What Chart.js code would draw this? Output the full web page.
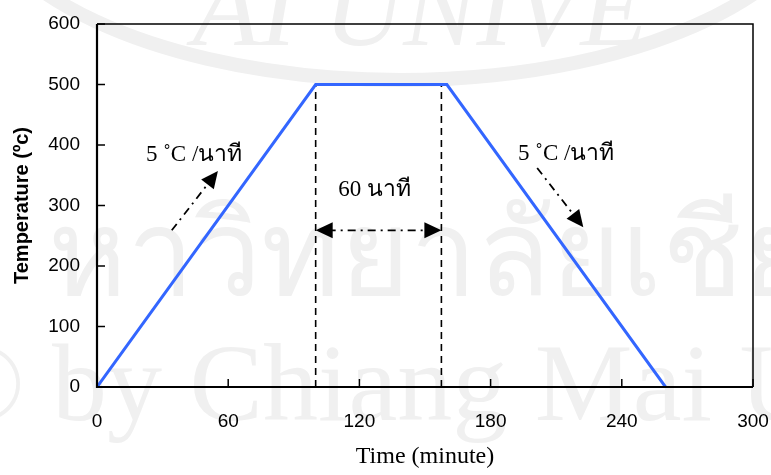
<!DOCTYPE html>
<html>
<head>
<meta charset="utf-8">
<script src="https://cdn.jsdelivr.net/npm/chart.js@4"></script>
<style>
  html, body { margin: 0; padding: 0; background: #fff; }
  #wrap { width: 771px; height: 475px; }
</style>
</head>
<body>
<div id="wrap"><canvas id="myChart" width="771" height="475"></canvas></div>
<script>
// heating profile
const times = [0, 100, 160, 260];
const temps = [0, 500, 500, 0];
// dashed hold markers (as drawn)
const holdLines = [100, 157.5];
const holdTop = 500;
// tick labels
const xTicks = [0, 60, 120, 180, 240, 300];
const yTicks = [0, 100, 200, 300, 400, 500, 600];

const rateLabel = '5 \u02DAC /นาที';
const holdLabel = '60 นาที';

// annotation arrows in data units [x1, y1, x2, y2]
const notes = {
  upArrow: [34.2, 259, 55.3, 357],
  downArrow: [201.3, 362, 222.4, 264],
  holdArrow: [100, 259, 157.5, 259],
  upText: [44.4, 383],
  downText: [214.6, 386],
  holdText: [127, 325]
};

const serif = '"Liberation Serif", "Times New Roman", serif';
const sans = '"Liberation Sans", Arial, sans-serif';

function arrowHead(ctx, x1, y1, x2, y2) {
  const a = Math.atan2(y2 - y1, x2 - x1);
  const len = 17, w = 8;
  ctx.beginPath();
  ctx.moveTo(x2, y2);
  ctx.lineTo(x2 - len * Math.cos(a) + w * Math.sin(a), y2 - len * Math.sin(a) - w * Math.cos(a));
  ctx.lineTo(x2 - len * Math.cos(a) - w * Math.sin(a), y2 - len * Math.sin(a) + w * Math.cos(a));
  ctx.closePath();
  ctx.fill();
}

function dashDot(ctx, x1, y1, x2, y2, hs, he) {
  // trim line for arrowheads
  const a = Math.atan2(y2 - y1, x2 - x1);
  ctx.save();
  ctx.setLineDash([8, 5, 2, 5]);
  ctx.lineWidth = 1.8;
  ctx.beginPath();
  ctx.moveTo(x1 + (hs ? 12 : 0) * Math.cos(a), y1 + (hs ? 12 : 0) * Math.sin(a));
  ctx.lineTo(x2 - (he ? 12 : 0) * Math.cos(a), y2 - (he ? 12 : 0) * Math.sin(a));
  ctx.stroke();
  ctx.restore();
}

const watermark = {
  id: 'watermark',
  beforeDraw(chart) {
    const ctx = chart.ctx;
    ctx.save();
    ctx.fillStyle = '#f0f0f0';
    ctx.strokeStyle = '#f0f0f0';
    ctx.lineWidth = 14;
    ctx.beginPath();
    ctx.ellipse(400, -120, 430, 200, 0, 0.05 * Math.PI, 0.95 * Math.PI);
    ctx.stroke();
    ctx.font = 'italic 110px ' + serif;
    ctx.textAlign = 'center';
    ctx.textBaseline = 'alphabetic';
    ctx.fillText('AI UNIVE', 420, 45);
    ctx.font = '120px ' + serif;
    ctx.fillText('หาวิทยาลัยเชีย', 430, 295);
    ctx.font = '110px ' + serif;
    ctx.fillText('© by Chiang Mai U', 380, 420);
    ctx.restore();
  }
};

const decor = {
  id: 'decor',
  afterDatasetsDraw(chart) {
    const ctx = chart.ctx;
    const xs = chart.scales.x, ys = chart.scales.y;
    const a = chart.chartArea;
    const px = v => xs.getPixelForValue(v);
    const py = v => ys.getPixelForValue(v);
    ctx.save();
    ctx.strokeStyle = '#000';
    ctx.fillStyle = '#000';
    // frame
    ctx.lineWidth = 1.5;
    ctx.beginPath();
    ctx.moveTo(a.left, a.top);
    ctx.lineTo(a.right, a.top);
    ctx.lineTo(a.right, a.bottom);
    ctx.stroke();
    ctx.lineWidth = 2.2;
    ctx.beginPath();
    ctx.moveTo(a.left, a.top);
    ctx.lineTo(a.left, a.bottom);
    ctx.lineTo(a.right, a.bottom);
    ctx.stroke();
    // inside ticks
    ctx.lineWidth = 1.5;
    xTicks.forEach(v => {
      ctx.beginPath();
      ctx.moveTo(px(v), a.bottom);
      ctx.lineTo(px(v), a.bottom - 8);
      ctx.stroke();
    });
    yTicks.forEach(v => {
      ctx.beginPath();
      ctx.moveTo(a.left, py(v));
      ctx.lineTo(a.left + 8, py(v));
      ctx.stroke();
    });
    // arrows
    const u = notes.upArrow, d = notes.downArrow, h = notes.holdArrow;
    dashDot(ctx, px(u[0]), py(u[1]), px(u[2]), py(u[3]), false, true);
    arrowHead(ctx, px(u[0]), py(u[1]), px(u[2]), py(u[3]));
    dashDot(ctx, px(d[0]), py(d[1]), px(d[2]), py(d[3]), false, true);
    arrowHead(ctx, px(d[0]), py(d[1]), px(d[2]), py(d[3]));
    dashDot(ctx, px(h[0]), py(h[1]), px(h[2]), py(h[3]), true, true);
    arrowHead(ctx, px(h[0]), py(h[1]), px(h[2]), py(h[3]));
    arrowHead(ctx, px(h[2]), py(h[3]), px(h[0]), py(h[1]));
    // texts
    ctx.font = '23px ' + serif;
    ctx.textAlign = 'center';
    ctx.textBaseline = 'middle';
    ctx.fillText(rateLabel, px(notes.upText[0]), py(notes.upText[1]));
    ctx.fillText(rateLabel, px(notes.downText[0]), py(notes.downText[1]));
    ctx.fillText(holdLabel, px(notes.holdText[0]), py(notes.holdText[1]));
    ctx.restore();
  }
};

new Chart(document.getElementById('myChart'), {
  type: 'line',
  data: {
    datasets: [
      {
        label: 'Temperature',
        data: times.map((t, i) => ({ x: t, y: temps[i] })),
        borderColor: 'rgb(51, 102, 255)',
        borderWidth: 3,
        pointRadius: 0,
        tension: 0
      },
      ...holdLines.map(t => ({
        label: 'hold',
        data: [{ x: t, y: 0 }, { x: t, y: holdTop }],
        borderColor: '#000',
        borderWidth: 1.6,
        borderDash: [7, 5],
        pointRadius: 0
      }))
    ]
  },
  options: {
    responsive: false,
    animation: false,
    layout: { padding: { top: 24, right: 18, left: 0, bottom: 0 } },
    plugins: { legend: { display: false }, tooltip: { enabled: false } },
    scales: {
      x: {
        type: 'linear',
        min: 0,
        max: 300,
        afterBuildTicks: s => { s.ticks = xTicks.map(v => ({ value: v })); },
        afterFit: s => { s.height = 88; s.paddingLeft = 0; s.paddingRight = 0; },
        grid: { display: false, drawTicks: false },
        border: { display: false },
        ticks: { color: '#000', font: { family: sans, size: 19 }, padding: 23, maxRotation: 0 },
        title: { display: true, text: 'Time (minute)', color: '#000', font: { family: serif, size: 24 }, padding: { top: 13 } }
      },
      y: {
        min: 0,
        max: 600,
        afterBuildTicks: s => { s.ticks = yTicks.map(v => ({ value: v })); },
        afterFit: s => { s.width = 97; s.paddingTop = 0; s.paddingBottom = 0; },
        grid: { display: false, drawTicks: false },
        border: { display: false },
        ticks: { color: '#000', font: { family: sans, size: 19 }, padding: 17 },
        title: { display: true, text: 'Temperature (ºc)', color: '#000', font: { family: sans, size: 20, weight: 'bold' }, padding: { top: 10, bottom: 0 } }
      }
    }
  },
  plugins: [watermark, decor]
});
</script>
</body>
</html>
